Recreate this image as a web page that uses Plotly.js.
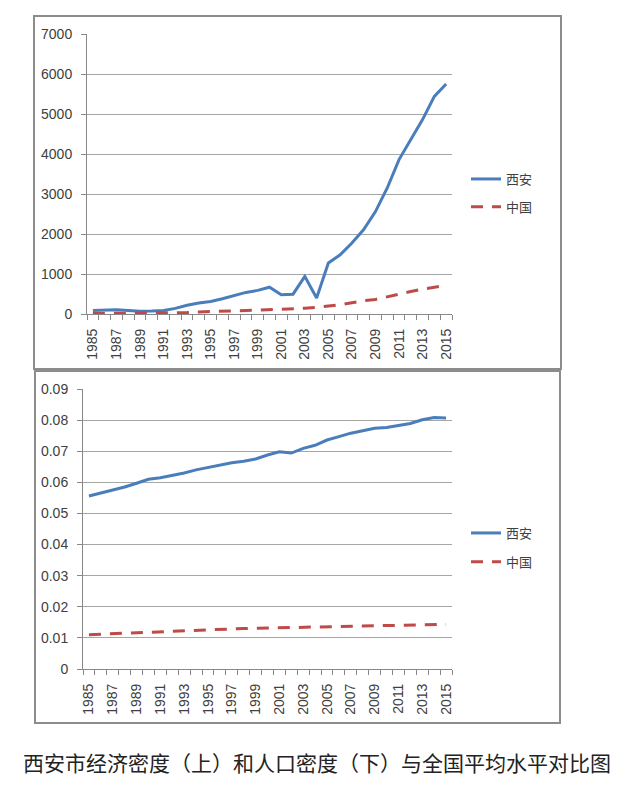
<!DOCTYPE html>
<html>
<head>
<meta charset="utf-8">
<script src="https://cdn.plot.ly/plotly-3.0.1.min.js"></script>
<style>html,body{margin:0;padding:0;background:#fff}#chart{width:630px;height:791px}</style>
</head>
<body>
<div id="chart"></div>
<script>
const years = [1985,1986,1987,1988,1989,1990,1991,1992,1993,1994,1995,1996,1997,1998,1999,2000,2001,2002,2003,2004,2005,2006,2007,2008,2009,2010,2011,2012,2013,2014,2015];
const tickYears = [1985,1987,1989,1991,1993,1995,1997,1999,2001,2003,2005,2007,2009,2011,2013,2015];
const seriesNames = ['西安','中国'];
// 经济密度（上）
const xianEcon = [90,105,105,85,70,75,90,140,220,275,315,380,460,540,590,670,480,495,940,400,1275,1480,1775,2110,2560,3150,3860,4360,4860,5440,5750];
const chinaEcon = [9.5,10.8,12.7,15.8,17.9,19.7,22.9,28.3,37.2,50.7,63.9,74.8,83.0,88.7,94.3,104.5,115.5,126.8,143.1,168.6,195.1,228.6,281.5,332.8,363.6,430.2,509.7,562.9,620.0,670.8,717.8];
// 人口密度（下）
const xianPop = [0.0556,0.0565,0.0575,0.0585,0.0597,0.0610,0.0615,0.0622,0.0630,0.0640,0.0648,0.0655,0.0663,0.0668,0.0675,0.0688,0.0698,0.0694,0.0709,0.0719,0.0736,0.0747,0.0758,0.0766,0.0774,0.0776,0.0782,0.0789,0.0801,0.0808,0.0807];
const chinaPop = [0.01103,0.01120,0.01139,0.01157,0.01174,0.01191,0.01206,0.01221,0.01235,0.01248,0.01262,0.01275,0.01288,0.01300,0.01310,0.01320,0.01329,0.01338,0.01346,0.01354,0.01362,0.01369,0.01376,0.01383,0.01390,0.01397,0.01403,0.01410,0.01417,0.01425,0.01432];
const caption = '西安市经济密度（上）和人口密度（下）与全国平均水平对比图';

const W = 630, H = 791;
const px = v => v / W;
const py = v => 1 - v / H;
const blue = '#4A7EBB', red = '#BE4B48';
const tickFont = {family: 'Liberation Sans, Arial, sans-serif', size: 14, color: '#404040'};
const legFont = {family: 'Noto Sans CJK SC, sans-serif', size: 13, color: '#404040'};

function xax(domain, anchor) {
  return {
    domain: domain, anchor: anchor, range: [1984.5, 2015.5],
    tickmode: 'array', tickvals: tickYears, ticktext: tickYears.map(String),
    tickangle: -90, ticks: '', showgrid: false, zeroline: false,
    showline: true, linecolor: '#888888', linewidth: 1,
    tickfont: tickFont, ticklabelstandoff: 8,
    minor: {tickmode: 'linear', tick0: 1984.5, dtick: 1, ticks: 'outside', ticklen: 5, tickcolor: '#888888', tickwidth: 1, showgrid: false}
  };
}
function yax(domain, anchor, range, dtick, fmt) {
  return {
    domain: domain, anchor: anchor, range: range, dtick: dtick, tickformat: fmt,
    showgrid: true, gridcolor: '#A6A6A6', gridwidth: 1, zeroline: false,
    showline: true, linecolor: '#888888', linewidth: 1,
    ticks: 'outside', ticklen: 5, tickcolor: '#888888',
    tickfont: tickFont, ticklabelstandoff: 6
  };
}

const data = [
  {x: years, y: xianEcon, name: seriesNames[0], type: 'scatter', mode: 'lines', line: {color: blue, width: 3}, xaxis: 'x', yaxis: 'y', legend: 'legend', legendgroup: 'a'},
  {x: years, y: chinaEcon, name: seriesNames[1], type: 'scatter', mode: 'lines', line: {color: red, width: 3, dash: '12px,9px'}, xaxis: 'x', yaxis: 'y', legend: 'legend', legendgroup: 'b'},
  {x: years, y: xianPop, name: seriesNames[0], type: 'scatter', mode: 'lines', line: {color: blue, width: 3}, xaxis: 'x2', yaxis: 'y2', legend: 'legend2', legendgroup: 'c'},
  {x: years, y: chinaPop, name: seriesNames[1], type: 'scatter', mode: 'lines', line: {color: red, width: 3, dash: '12px,9px'}, xaxis: 'x2', yaxis: 'y2', legend: 'legend2', legendgroup: 'd'}
];

const layout = {
  width: W, height: H, margin: {l: 0, r: 0, t: 0, b: 0},
  paper_bgcolor: '#fff', plot_bgcolor: '#fff', showlegend: true,
  xaxis: xax([px(87), px(452)], 'y'),
  yaxis: yax([py(314), py(34)], 'x', [0, 7000], 1000, 'd'),
  xaxis2: xax([px(83), px(452)], 'y2'),
  yaxis2: yax([py(669), py(389)], 'x2', [0, 0.09], 0.01, ''),
  legend: {x: px(466), y: py(164), xanchor: 'left', yanchor: 'top', font: legFont, tracegroupgap: 8, bgcolor: 'rgba(0,0,0,0)'},
  legend2: {x: px(466), y: py(518), xanchor: 'left', yanchor: 'top', font: legFont, tracegroupgap: 9, bgcolor: 'rgba(0,0,0,0)'},
  shapes: [
    {type: 'rect', xref: 'paper', yref: 'paper', x0: px(34), x1: px(561), y0: py(369), y1: py(16), line: {color: '#8C8C8C', width: 2}},
    {type: 'rect', xref: 'paper', yref: 'paper', x0: px(35), x1: px(560), y0: py(723), y1: py(371), line: {color: '#8C8C8C', width: 2}}
  ],
  annotations: [
    {text: caption, xref: 'paper', yref: 'paper', x: px(317), y: py(762), xanchor: 'center', yanchor: 'middle', showarrow: false,
     font: {family: 'Noto Sans CJK SC, sans-serif', size: 21, color: '#222'}}
  ]
};

Plotly.newPlot('chart', data, layout, {displayModeBar: false, staticPlot: true});
</script>
</body>
</html>
